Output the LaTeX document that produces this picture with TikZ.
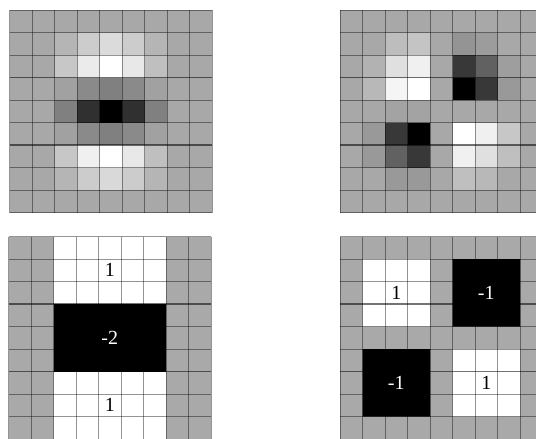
\documentclass[tikz,border=0pt]{standalone}
\usepackage{fontspec}
\setmainfont{Liberation Serif}
\usetikzlibrary{positioning}
\definecolor{hsBase}{HTML}{A9A9A9}
\definecolor{hsLine}{HTML}{000000}
\tikzset{
  gridline/.style={draw=hsLine, opacity=0.42, line width=1pt},
  bandline/.style={draw=hsLine, opacity=0.55, line width=1.2pt},
  wbox/.style={fill=white},
  kbox/.style={fill=black},
  wlbl/.style={font=\fontsize{20}{24}\selectfont, text=black, inner sep=0pt},
  klbl/.style={wlbl, text=white},
  panel/.style={x=22.5pt, y=-22.5pt}
}
% 9x9 grid, heavier rule every third row
\newcommand{\hsgrid}{%
  \foreach \i in {0,...,9} {
    \draw[gridline] (\i,0) -- (\i,9);
  }
  \foreach \i in {0,1,2,4,5,7,8,9} {
    \draw[gridline] (0,\i) -- (9,\i);
  }
  \draw[bandline] (0,3) -- (9,3) (0,6) -- (9,6);
}
% one row of lightness values (0 = black, 100 = white) per entry
\newcommand{\hsshade}[1]{%
  \foreach \row [count=\r from 0] in {#1} {
    \foreach \v [count=\c from 0] in \row {
      \fill[white!\v!black] (\c,\r) rectangle ++(1,1);
    }
  }
}
\begin{document}
\begin{tikzpicture}
  \useasboundingbox (0,0) rectangle (536pt,-439pt);
  \clip (0,0) rectangle (536pt,-439pt);

  % Gaussian, second order in y
  \begin{scope}[shift={(9.5pt,-10pt)}, panel]
    \hsshade{
      {66,66,66,66,66,66,66,66,66},
      {66,66,71,80,86,80,71,66,66},
      {66,66,78,92,100,91,75,66,66},
      {66,66,63,54,50,54,63,66,66},
      {66,66,50,19,0,19,50,66,66},
      {66,66,63,54,50,54,63,66,66},
      {66,66,78,94,100,91,75,66,66},
      {66,66,71,80,85,80,71,66,66},
      {66,66,66,66,66,66,66,66,66}}
    \hsgrid
  \end{scope}

  % Gaussian, mixed xy
  \begin{scope}[shift={(340pt,-10pt)}, panel]
    \hsshade{
      {66,66,66,66,66,66,66,66,66},
      {66,66,74,77,66,58,61,66,66},
      {66,70,88,94,66,22,38,62,66},
      {66,72,96,100,66,0,22,60,66},
      {66,66,64,64,66,66,66,66,66},
      {66,60,22,0,66,100,94,78,66},
      {66,60,38,22,66,94,88,75,66},
      {66,66,60,60,66,75,72,66,66},
      {66,66,66,66,66,66,66,66,66}}
    \hsgrid
  \end{scope}

  % box filter, y
  \begin{scope}[shift={(8.5pt,-236.5pt)}, panel]
    \fill[hsBase] (0,0) rectangle (9,9);
    \fill[wbox] (2,0) rectangle (7,3) (2,6) rectangle (7,9);
    \hsgrid
    \fill[kbox] (2,3) rectangle (7,6);
    \node[wlbl] (yTop) at (4.5,1.5) {1};
    \node[klbl] (yMid) at (4.5,4.5) {-2};
    \node[wlbl] (yBot) at (4.5,7.5) {1};
  \end{scope}

  % box filter, xy
  \begin{scope}[shift={(340pt,-236.5pt)}, panel]
    \fill[hsBase] (0,0) rectangle (9,9);
    \fill[wbox] (1,1) rectangle (4,4) (5,5) rectangle (8,8);
    \hsgrid
    \fill[kbox] (5,1) rectangle (8,4) (1,5) rectangle (4,8);
    \node[wlbl] (xyTL) at (2.5,2.5) {1};
    \node[klbl] (xyTR) at (6.5,2.5) {-1};
    \node[klbl] (xyBL) at (2.5,6.5) {-1};
    \node[wlbl] (xyBR) at (6.5,6.5) {1};
  \end{scope}
\end{tikzpicture}
\end{document}
